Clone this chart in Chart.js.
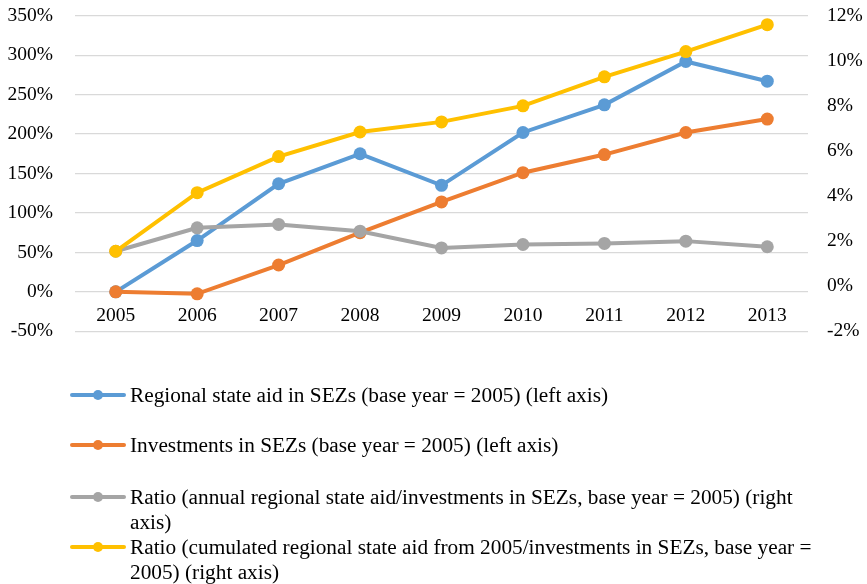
<!DOCTYPE html>
<html>
<head>
<meta charset="utf-8">
<script src="https://cdn.jsdelivr.net/npm/chart.js@4/dist/chart.umd.min.js"></script>
<style>
  html, body { margin: 0; padding: 0; background: #fff; }
  #wrap { position: relative; width: 867px; height: 584px; overflow: hidden; }
  #c { position: absolute; left: 0; top: -18px; }
  #legend { position: absolute; left: 0; top: 0; width: 867px; height: 584px; font-family: "Liberation Serif", "Times New Roman", serif; font-size: 21.3px; color: #000; }
  .item { position: absolute; left: 70px; width: 750px; padding-left: 60px; line-height: 25px; box-sizing: border-box; }
  .item svg { position: absolute; left: 0; top: 2px; }
</style>
</head>
<body>
<div id="wrap">
  <canvas id="c" width="867" height="383"></canvas>
  <div id="legend"></div>
</div>
<script>
const years = ['2005','2006','2007','2008','2009','2010','2011','2012','2013'];
const aidIndex = [0, 65, 137, 175, 135, 202, 237, 292, 267];
const investIndex = [0, -2.5, 34, 75, 114, 151, 174, 202, 219];
const annualRatio = [1.55, 2.59, 2.74, 2.44, 1.70, 1.85, 1.90, 2.00, 1.75];
const cumulRatio = [1.55, 4.15, 5.75, 6.84, 7.29, 8.00, 9.29, 10.41, 11.60];
const seriesNames = [
  'Regional state aid in SEZs (base year = 2005) (left axis)',
  'Investments in SEZs (base year = 2005) (left axis)',
  'Ratio (annual regional state aid/investments in SEZs, base year = 2005) (right axis)',
  'Ratio (cumulated regional state aid from 2005/investments in SEZs, base year = 2005) (right axis)'
];
const colors = ['#5B9BD5', '#ED7D31', '#A5A5A5', '#FFC000'];
const legendTops = [382.5, 432.5, 484.5, 534.5];

Chart.defaults.font.family = 'Liberation Serif';
Chart.defaults.color = '#000';

function ds(i, data, axis, order) {
  return {
    label: seriesNames[i], data: data, yAxisID: axis, order: order,
    borderColor: colors[i], backgroundColor: colors[i],
    borderWidth: 4, pointRadius: 6.5, pointHoverRadius: 6.5,
    pointBackgroundColor: colors[i], pointBorderColor: colors[i], pointBorderWidth: 0,
    tension: 0, fill: false
  };
}

const tickFont = { family: 'Liberation Serif', size: 19.5 };

new Chart(document.getElementById('c'), {
  type: 'line',
  data: {
    labels: years,
    datasets: [
      ds(0, aidIndex, 'yL', 3),
      ds(1, investIndex, 'yL', 2),
      ds(2, annualRatio, 'yR', 1),
      ds(3, cumulRatio, 'yR', 0)
    ]
  },
  options: {
    responsive: false, animation: false,
    layout: { padding: { top: 0, bottom: 0, left: 0, right: 0 } },
    plugins: { legend: { display: false }, tooltip: { enabled: false } },
    scales: {
      x: {
        position: { yL: 0 },
        offset: true,
        grid: { display: false, drawTicks: false },
        border: { display: false },
        ticks: { color: '#000', font: tickFont, padding: 12, maxRotation: 0 }
      },
      yL: {
        position: 'left', min: -50, max: 350,
        ticks: { stepSize: 50, color: '#000', font: tickFont, padding: 22,
                 callback: v => v + '%' },
        grid: { color: '#D9D9D9', lineWidth: 1.3, drawTicks: false },
        border: { display: false },
        afterFit: s => { s.width = 75; }
      },
      yR: {
        position: 'right', min: -2, max: 12,
        ticks: { stepSize: 2, color: '#000', font: tickFont, padding: 19,
                 callback: v => v + '%' },
        grid: { display: false, drawTicks: false },
        border: { display: false },
        afterFit: s => { s.width = 59; }
      }
    }
  }
});

const leg = document.getElementById('legend');
seriesNames.forEach((n, i) => {
  const d = document.createElement('div');
  d.className = 'item';
  d.style.top = legendTops[i] + 'px';
  d.innerHTML = '<svg width="56" height="20"><line x1="2" y1="10" x2="54" y2="10" stroke="' + colors[i] +
    '" stroke-width="4" stroke-linecap="round"/><circle cx="28" cy="10" r="5" fill="' + colors[i] + '"/></svg>' + n;
  leg.appendChild(d);
});
</script>
</body>
</html>
